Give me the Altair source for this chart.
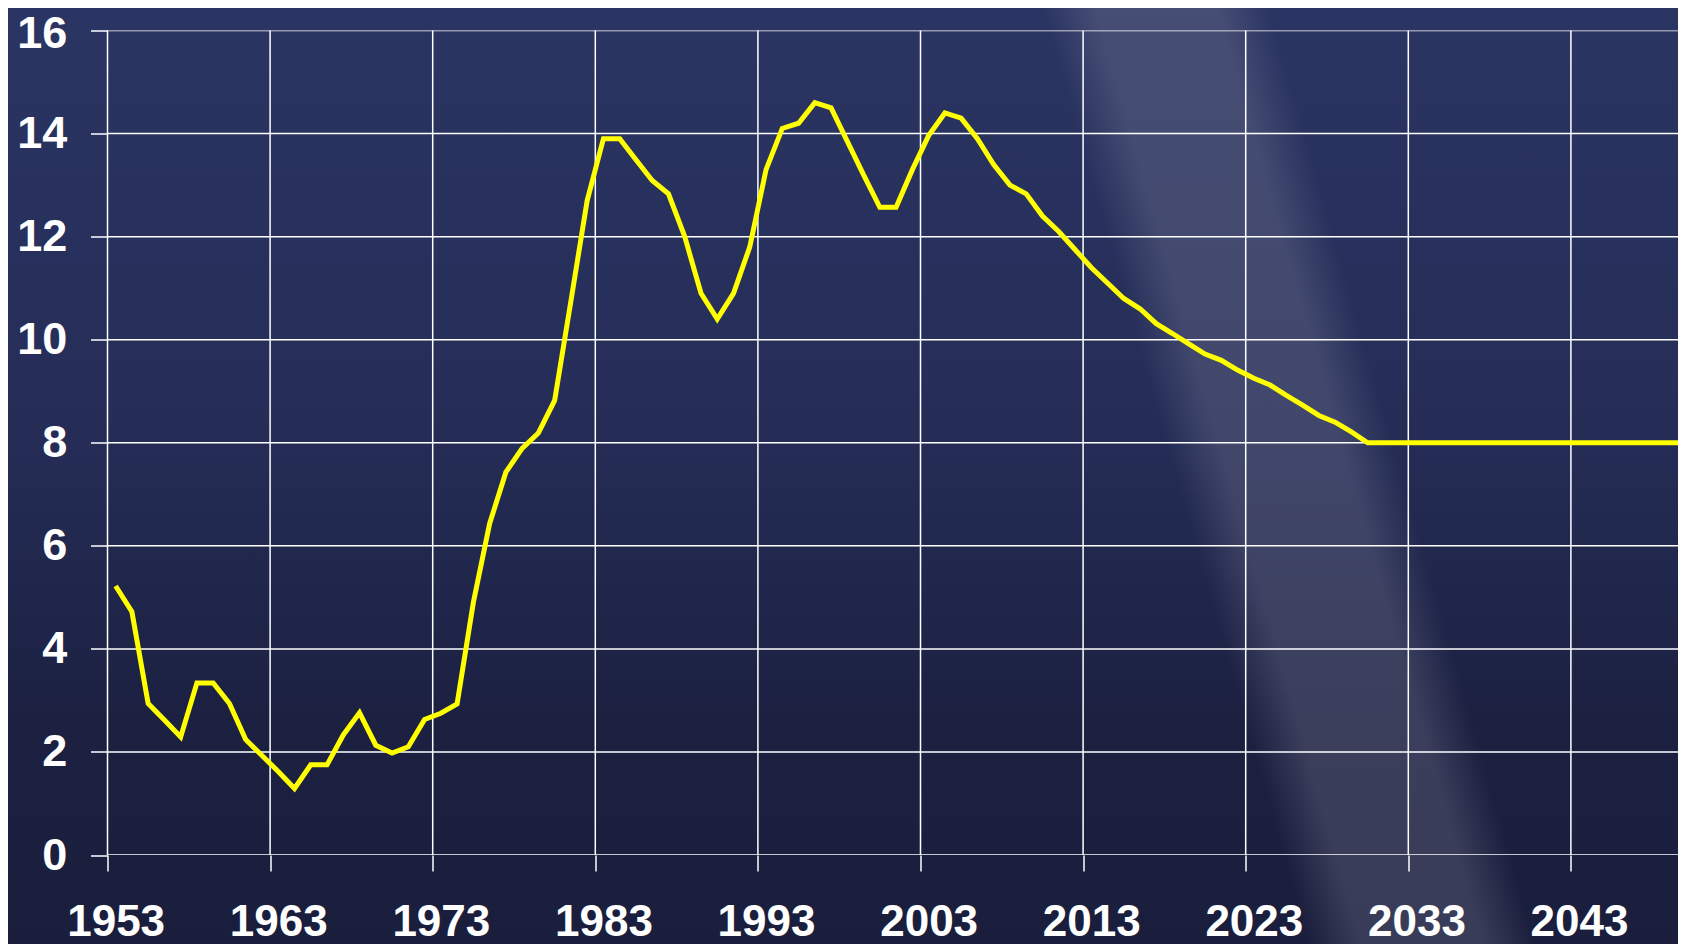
import altair as alt
import pandas as pd

# ---- data ----
years = list(range(1953, 2051))
values = [
    5.22, 4.72, 2.94, 2.62, 2.29, 3.34, 3.34, 2.94, 2.24, 1.93,
    1.62, 1.29, 1.75, 1.75, 2.33, 2.76, 2.13, 1.98, 2.10, 2.63,
    2.75, 2.93, 4.90, 6.43, 7.43, 7.89, 8.19, 8.82, 10.75, 12.70,
    13.90, 13.90, 13.49, 13.09, 12.83, 12.00, 10.90, 10.40, 10.90, 11.80,
    13.30, 14.10, 14.20, 14.60, 14.50, 13.85, 13.20, 12.57, 12.57, 13.30,
    13.96, 14.40, 14.30, 13.90, 13.40, 13.00, 12.83, 12.40, 12.10, 11.75,
    11.40, 11.10, 10.80, 10.60, 10.31, 10.12, 9.92, 9.72, 9.60, 9.41,
    9.25, 9.12, 8.92, 8.73, 8.53, 8.40, 8.21, 8.00,
    8.00, 8.00, 8.00, 8.00, 8.00, 8.00, 8.00, 8.00, 8.00, 8.00,
    8.00, 8.00, 8.00, 8.00, 8.00, 8.00, 8.00, 8.00, 8.00, 8.00,
]
x_tick_labels = [1953, 1963, 1973, 1983, 1993, 2003, 2013, 2023, 2033, 2043]
y_ticks = [0, 2, 4, 6, 8, 10, 12, 14, 16]

df = pd.DataFrame({"year": years, "value": values})

# ---- layout ----
W = 1570.5
H = 824.5
PX_PER_YEAR = 16.26
x_start = 1952.5
x_end = x_start + W / PX_PER_YEAR
grid_x = [v - 0.5 for v in x_tick_labels]  # category boundaries

PAD_L, PAD_T, PAD_R, PAD_B = 99.5, 22.5, 0, 89

FONT = "Liberation Sans"
GRID = "#ffffff"

full_box = dict(
    x=alt.value(-PAD_L - 10), x2=alt.value(W + 20),
    y=alt.value(-PAD_T - 10), y2=alt.value(H + PAD_B + 10),
)

bg = alt.Chart(pd.DataFrame({"k": [0]})).mark_rect(
    clip=False,
    color=alt.LinearGradient(
        gradient="linear",
        stops=[
            alt.GradientStop(color="#2b3563", offset=0),
            alt.GradientStop(color="#252d57", offset=0.45),
            alt.GradientStop(color="#1c2142", offset=0.75),
            alt.GradientStop(color="#1a1e3c", offset=1),
        ],
        x1=0, x2=0, y1=0, y2=1,
    ),
).encode(**full_box)

streak = alt.Chart(pd.DataFrame({"k": [0]})).mark_rect(
    clip=False,
    color=alt.LinearGradient(
        gradient="linear",
        stops=[
            alt.GradientStop(color="rgba(150,150,170,0)", offset=0),
            alt.GradientStop(color="rgba(150,150,170,0)", offset=0.61),
            alt.GradientStop(color="rgba(150,150,170,0.25)", offset=0.64),
            alt.GradientStop(color="rgba(150,150,170,0.25)", offset=0.71),
            alt.GradientStop(color="rgba(150,150,170,0)", offset=0.74),
            alt.GradientStop(color="rgba(150,150,170,0)", offset=1),
        ],
        x1=0, y1=0.08, x2=1, y2=-0.08,
    ),
).encode(**full_box)

x_scale = alt.Scale(domain=[x_start, x_end], nice=False, zero=False)
y_scale = alt.Scale(domain=[0, 16], nice=False)

axis_common = dict(
    tickWidth=1.5,
    tickColor=GRID,
    grid=False,
    domain=False,
    labelFont=FONT,
    labelFontWeight="bold",
    labelColor="#ffffff",
    labelFlush=False,
    labelOverlap=False,
    title=None,
    zindex=1,
)

x_axis = alt.Axis(
    values=grid_x,
    labelExpr="format(datum.value + 0.5, 'd')",
    labelOffset=PX_PER_YEAR / 2,
    labelFontSize=44,
    tickSize=16,
    labelPadding=29,
    **axis_common,
)
y_axis = alt.Axis(
    values=y_ticks,
    tickSize=17,
    labelPadding=23.6,
    labelFontSize=45,
    labelOffset={"condition": {"test": "datum.value === 16", "value": 3}, "value": 0},
    **axis_common,
)

vgrid = alt.Chart(pd.DataFrame({"year": grid_x})).mark_rule(
    color=GRID, strokeWidth=1.5
).encode(x=alt.X("year:Q", scale=x_scale, axis=x_axis, title=None))

hgrid = alt.Chart(pd.DataFrame({"value": y_ticks})).mark_rule(
    color=GRID, strokeWidth=1.5, clip=True
).encode(y=alt.Y("value:Q", scale=y_scale, axis=y_axis, title=None))

line = alt.Chart(df).mark_line(
    color="#ffff00", strokeWidth=5, clip=True, strokeJoin="miter"
).encode(
    x=alt.X("year:Q", scale=x_scale, axis=x_axis, title=None),
    y=alt.Y("value:Q", scale=y_scale, axis=y_axis, title=None),
)

chart = alt.layer(bg, streak, vgrid, hgrid, line).properties(
    width=W,
    height=H,
    padding={"left": PAD_L, "top": PAD_T, "right": PAD_R, "bottom": PAD_B},
    autosize=alt.AutoSizeParams(type="none"),
).configure(background="#232b52").configure_view(stroke=None)

chart.save("out.html", embed_options={"renderer": "svg", "actions": False})
